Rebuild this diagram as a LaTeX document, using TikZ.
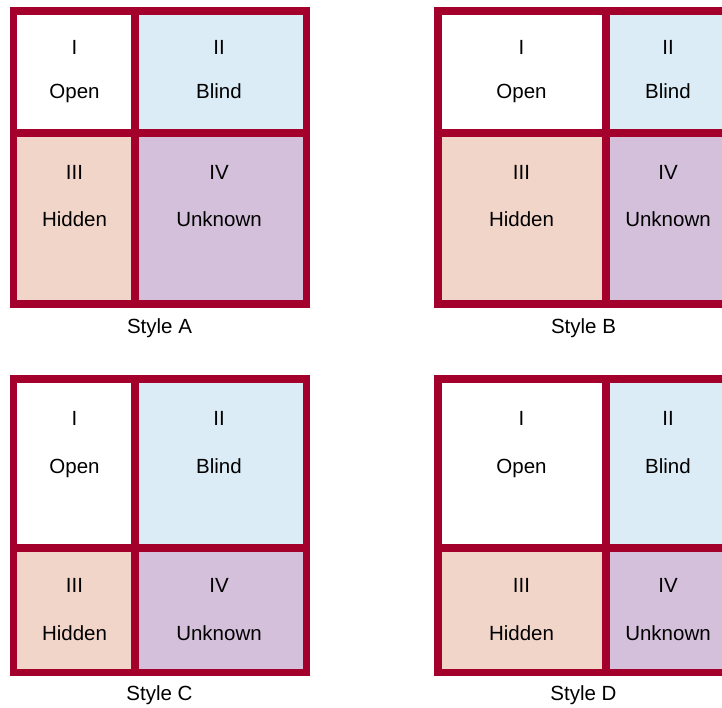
\documentclass[tikz,border=0pt]{standalone}
\usepackage{fontspec}
\setmainfont{Liberation Sans}
\definecolor{framered}{HTML}{A3002C}
\definecolor{cellblue}{HTML}{DCECF7}
\definecolor{cellpeach}{HTML}{F2D5C9}
\definecolor{celllav}{HTML}{D4C0DA}
% #1 x0, #2 y0, #3 x1, #4 y1 (outer), #5 divider left x, #6 divider top y
\newcommand\jwin[6]{%
  \fill[framered] (#1,#2) rectangle (#3,#4);
  \fill[white]     ({#1+7.5},{#2+7.7}) rectangle (#5,#6);
  \fill[cellblue]  ({#5+8},{#2+7.7}) rectangle ({#3-7.5},#6);
  \fill[cellpeach] ({#1+7.5},{#6+8}) rectangle (#5,{#4-7.5});
  \fill[celllav]   ({#5+8},{#6+8}) rectangle ({#3-7.5},{#4-7.5});
}
\begin{document}
\begin{tikzpicture}[x=1pt,y=-1pt,
  lbl/.style={anchor=base, font=\fontsize{20.5}{24}\selectfont, inner sep=0pt, text=black},
  captxt/.style={lbl}]
\useasboundingbox (0,0) rectangle (722,708);
\clip (0,0) rectangle (722,708);
\fill[white] (0,0) rectangle (722,708);
% Style A
\jwin{9.5}{7.3}{310}{308}{131}{129}
\node[lbl] (a1n) at (74.5,54.2) {I};
\node[lbl] (a1t) at (74.5,98.2) {Open};
\node[lbl] (a2n) at (219,54.2) {II};
\node[lbl] (a2t) at (219,98.2) {Blind};
\node[lbl] (a3n) at (74.5,179.2) {III};
\node[lbl] (a3t) at (74.5,226.7) {Hidden};
\node[lbl] (a4n) at (219,179.2) {IV};
\node[lbl] (a4t) at (219,226.7) {Unknown};
\node[captxt] (ca) at (159.5,333.5) {Style A};
% Style B
\jwin{434}{7.3}{734}{308}{602}{129}
\node[lbl] (b1n) at (521.5,54.2) {I};
\node[lbl] (b1t) at (521.5,98.2) {Open};
\node[lbl] (b2n) at (668,54.2) {II};
\node[lbl] (b2t) at (668,98.2) {Blind};
\node[lbl] (b3n) at (521.5,179.2) {III};
\node[lbl] (b3t) at (521.5,226.7) {Hidden};
\node[lbl] (b4n) at (668,179.2) {IV};
\node[lbl] (b4t) at (668,226.7) {Unknown};
\node[captxt] (cb) at (583.5,333.5) {Style B};
% Style C
\jwin{9.5}{375.3}{310}{676}{131}{544}
\node[lbl] (c1n) at (74.5,425.2) {I};
\node[lbl] (c1t) at (74.5,473.2) {Open};
\node[lbl] (c2n) at (219,425.2) {II};
\node[lbl] (c2t) at (219,473.2) {Blind};
\node[lbl] (c3n) at (74.5,592.2) {III};
\node[lbl] (c3t) at (74.5,640) {Hidden};
\node[lbl] (c4n) at (219,592.2) {IV};
\node[lbl] (c4t) at (219,640) {Unknown};
\node[captxt] (cc) at (159.5,700.5) {Style C};
% Style D
\jwin{434}{375.3}{734}{676}{602}{544}
\node[lbl] (d1n) at (521.5,425.2) {I};
\node[lbl] (d1t) at (521.5,473.2) {Open};
\node[lbl] (d2n) at (668,425.2) {II};
\node[lbl] (d2t) at (668,473.2) {Blind};
\node[lbl] (d3n) at (521.5,592.2) {III};
\node[lbl] (d3t) at (521.5,640) {Hidden};
\node[lbl] (d4n) at (668,592.2) {IV};
\node[lbl] (d4t) at (668,640) {Unknown};
\node[captxt] (cd) at (583.5,700.5) {Style D};
\end{tikzpicture}
\end{document}
